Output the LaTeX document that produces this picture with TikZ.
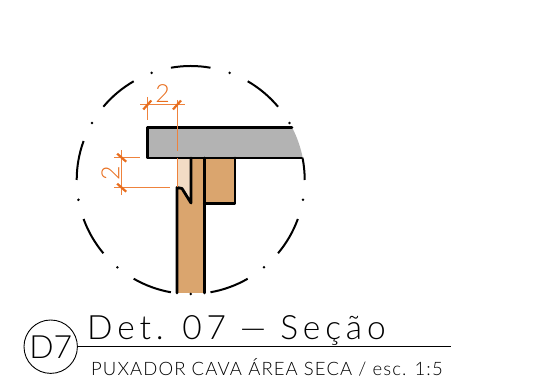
\documentclass[tikz,border=0pt]{standalone}
\usepackage{xcolor}
\usepackage{fontspec}
\usetikzlibrary{shapes, arrows.meta, positioning}
\newfontfamily\cadfont[LetterSpace=14.5]{Lato Light}
\newfontfamily\cadsmall[LetterSpace=6]{Lato Light}
\newfontfamily\caddim{Lato Light}
\definecolor{wood}{RGB}{218,165,110}
\definecolor{woodlight}{RGB}{242,220,197}
\definecolor{slab}{RGB}{179,179,179}
\definecolor{dimcolor}{RGB}{232,110,30}
\definecolor{dimfaint}{RGB}{238,130,60}

\begin{document}
\begin{tikzpicture}[x=1pt, y=1pt,
            cut/.style={draw=black, line width=2.8pt, line cap=round, line join=round},
            rimline/.style={draw=black, line width=2pt},
            dimline/.style={draw=dimfaint, line width=1.6pt},
            dimtick/.style={draw=dimcolor, line width=2.2pt},
            dimtext/.style={text=dimcolor, font=\caddim\fontsize{25}{25}\selectfont, inner sep=0pt}]
            \useasboundingbox (0,0) rectangle (540,382);
            \coordinate (rim) at (190.7,202);

            % slab and wood
            \fill[slab] (147.3,254.7) -- (292,254.7) arc[start angle=27.5, end angle=11.2, radius=114] -- (147.3,224) -- cycle;
            \fill[wood] (177,224) rectangle (204.3,89);
            \fill[wood] (204.3,224) rectangle (235,178.5);
            \fill[woodlight] (177,224) -- (191,224) -- (191,179) -- (182,193.5) -- (177,194.5) -- cycle;

            % outlines
            \draw[cut] (292,254.7) -- (147.3,254.7) -- (147.3,224) -- (301.7,224);
            \draw[cut] (177,89) -- (177,194.5) -- (182,193.5) -- (191,179) -- (191,224);
            \draw[cut] (204.3,224) -- (204.3,89);
            \draw[cut] (235,224) -- (235,178.5) -- (204.3,178.5);
            \draw[dimline, line width=1.1pt] (177.5,224) -- (177.5,194.5);

            % dashed rim
            \foreach \a in {40,80,120,160,200,240,280,320}
                \draw[rimline] ([shift={(\a:114)}]rim) arc[start angle=\a, delta angle=20, radius=114];
            \draw[rimline] ([shift={(0:114)}]rim) arc[start angle=0, delta angle=11.2, radius=114];
            \foreach \a in {30,70,110,150,190,230,270,310,350}
                \fill ([shift={(\a:114)}]rim) circle (1.4);

            % dimensions
            \draw[dimline] (140,277.5) -- (185,277.5);
            \draw[dimline] (147.5,285) -- (147.5,262);
            \draw[dimline, line width=1.1pt] (177.5,282) -- (177.5,231.3);
            \foreach \x in {147.3,177}
                \draw[dimtick] (\x-4,272.5) -- (\x+4,281.5);
            \node[dimtext] (dimtop) at (162.7,288.5) {2};
            \draw[dimline] (121.5,232) -- (121.5,187);
            \draw[dimline] (114,224.5) -- (140,224.5);
            \draw[dimline] (114,194.5) -- (170,194.5);
            \foreach \y in {224.3,194.3}
                \draw[dimtick] (117.2,\y+4) -- (126.2,\y-4);
            \node[dimtext, rotate=90] (dimleft) at (110.5,209) {2};

            % title block
            \node[draw, circle, line width=0.9pt, minimum size=53.4pt, inner sep=0pt, font=\caddim\fontsize{32}{32}\selectfont] (badge) at (50.7,35.3) {D7};
            \coordinate (titleend) at (451,35.3);
            \draw[line width=0.9pt] (badge.east) -- (titleend);
            \node[anchor=base west, inner sep=0pt, font=\cadfont\fontsize{33.5}{33.5}\selectfont] (title) at (87,42) {Det. 07 — Seção};
            \node[anchor=base west, inner sep=0pt, font=\cadsmall\fontsize{18.5}{18.5}\selectfont] (subtitle) at (91,6) {PUXADOR CAVA ÁREA SECA / esc. 1:5};
        \end{tikzpicture}
\end{document}
